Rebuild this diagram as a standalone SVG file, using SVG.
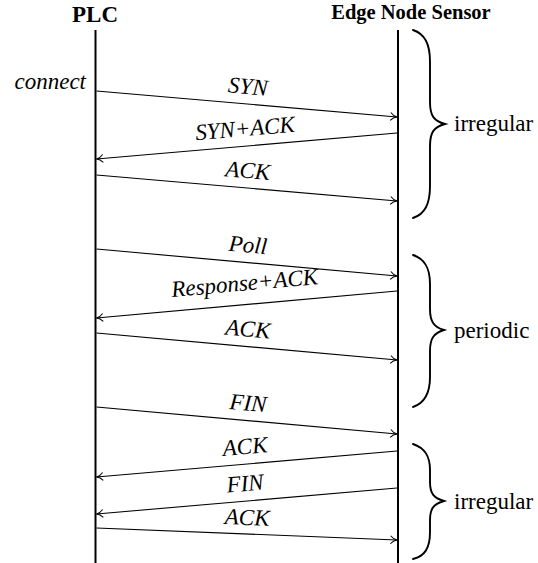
<svg xmlns="http://www.w3.org/2000/svg" width="538" height="563" viewBox="0 0 538 563">
<style>
.title{font-family:"Liberation Serif",serif;font-weight:bold;fill:#000;text-anchor:middle}
.lbl{font-family:"Liberation Serif",serif;font-style:italic;font-size:23px;fill:#000;text-anchor:middle}
.brl{font-family:"Liberation Serif",serif;font-size:23px;fill:#000}
.life{stroke:#000;stroke-width:2;fill:none}
.msg{stroke:#000;stroke-width:1.1;fill:none;marker-end:url(#arr)}
.brace{stroke:#000;stroke-width:1.9;fill:none;stroke-linecap:round}
</style>
<defs>
<marker id="arr" markerUnits="userSpaceOnUse" viewBox="-8 -5 9 10" markerWidth="9" markerHeight="10" refX="0" refY="0" orient="auto">
<path d="M -6.5,-4 C -4.5,-1.6 -2,-0.4 0,0 C -2,0.4 -4.5,1.6 -6.5,4" stroke="#000" stroke-width="1" fill="none"/>
</marker>
</defs>
<rect width="538" height="563" fill="#fff"/>
<g id="plc">
<text class="title" x="95" y="22" style="font-size:23px">PLC</text>
<line class="life" x1="95.5" y1="30" x2="95.5" y2="563"/>
<text class="lbl" x="86" y="89" style="text-anchor:end">connect</text>
</g>
<g id="edge">
<text class="title" x="411" y="18.5" style="font-size:20.5px">Edge Node Sensor</text>
<line class="life" x1="398" y1="30" x2="398" y2="563"/>
</g>
<g id="connectors">
<line class="msg" x1="96.5" y1="91" x2="397" y2="117"/>
<line class="msg" x1="397" y1="133" x2="96.5" y2="159"/>
<line class="msg" x1="96.5" y1="175" x2="397" y2="201"/>
<line class="msg" x1="96.5" y1="249" x2="397" y2="276"/>
<line class="msg" x1="397" y1="291" x2="96.5" y2="318"/>
<line class="msg" x1="96.5" y1="333" x2="397" y2="360"/>
<line class="msg" x1="96.5" y1="407" x2="397" y2="434"/>
<line class="msg" x1="397" y1="451" x2="96.5" y2="477"/>
<line class="msg" x1="397" y1="488" x2="96.5" y2="514"/>
<line class="msg" x1="96.5" y1="528" x2="397" y2="540"/>
</g>
<g id="labels">
<text class="lbl" transform="translate(246.5 104) rotate(4.9)" y="-10">SYN</text>
<text class="lbl" transform="translate(246.5 146) rotate(-4.9)" y="-10">SYN+ACK</text>
<text class="lbl" transform="translate(246.5 188) rotate(4.9)" y="-10">ACK</text>
<text class="lbl" transform="translate(246.5 262.5) rotate(5.1)" y="-10">Poll</text>
<text class="lbl" transform="translate(246.5 304.5) rotate(-5.1)" y="-14">Response+ACK</text>
<text class="lbl" transform="translate(246.5 346.5) rotate(5.1)" y="-10">ACK</text>
<text class="lbl" transform="translate(246.5 420.5) rotate(5.1)" y="-10">FIN</text>
<text class="lbl" transform="translate(246.5 464) rotate(-4.9)" y="-10">ACK</text>
<text class="lbl" transform="translate(246.5 501) rotate(-4.9)" y="-10">FIN</text>
<text class="lbl" transform="translate(246.5 534) rotate(2.3)" y="-9">ACK</text>
</g>
<g id="brace-irregular-1">
<path class="brace" d="M413,30 C425,34 430,44 430,62 L430,102 C430,116 434,121 445,124 C434,127 430,132 430,146 L430,186 C430,204 425,214 413,218"/>
<text class="brl" x="454" y="131">irregular</text>
</g>
<g id="brace-periodic">
<path class="brace" d="M413,255 C425,259 430,268 430,284 L430,309 C430,322 434,327 444,330 C434,333 430,338 430,351 L430,377 C430,393 425,403 413,407"/>
<text class="brl" x="454" y="338">periodic</text>
</g>
<g id="brace-irregular-2">
<path class="brace" d="M413,444 C425,448 430,456 430,470 L430,482 C430,494 434,498 444,501 C434,504 430,508 430,520 L430,532 C430,548 425,556 413,559"/>
<text class="brl" x="454" y="509">irregular</text>
</g>
</svg>
